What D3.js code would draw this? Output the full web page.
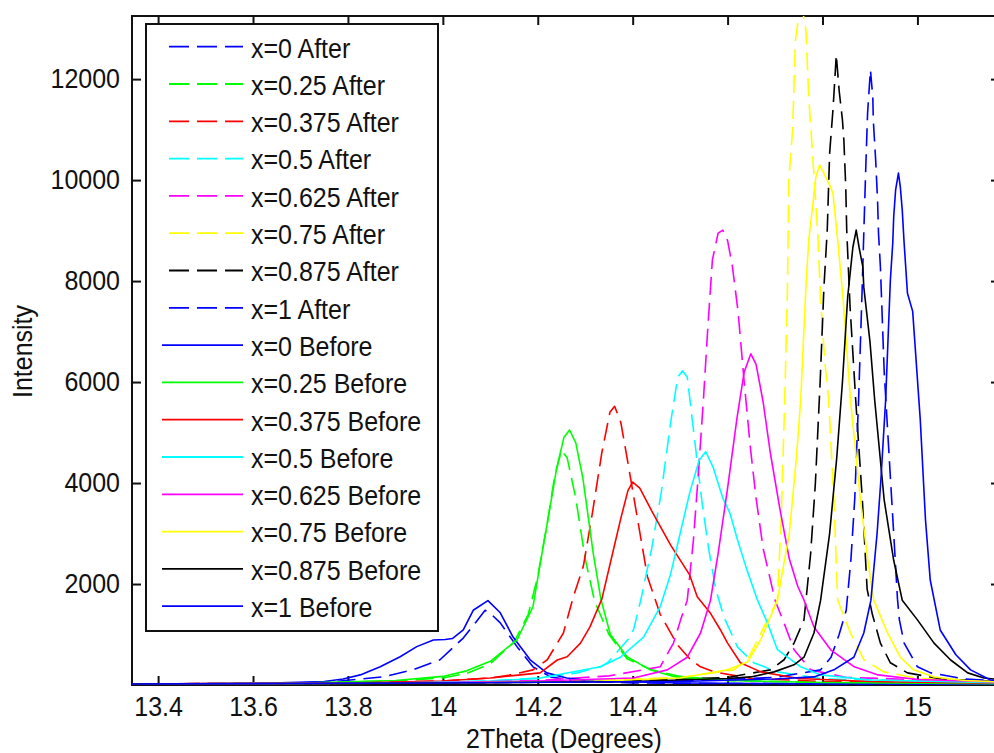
<!DOCTYPE html>
<html>
<head>
<meta charset="utf-8">
<script src="https://cdn.jsdelivr.net/npm/d3@7"></script>
<style>
  html, body { margin: 0; padding: 0; background: #fff; }
  svg { display: block; }
  text {
    font-family: "Liberation Sans", Arial, sans-serif; fill: #111;
    transform-box: fill-box; transform-origin: center; transform: scaleY(1.08);
  }
</style>
</head>
<body>
<svg id="chart" width="994" height="753"></svg>
<script>
// ---- data: XRD peak profiles, intensity vs 2theta (degrees) ----
const compositions = ["0", "0.25", "0.375", "0.5", "0.625", "0.75", "0.875", "1"];
const colours = ["#0000ff", "#00ff00", "#ff0000", "#00ffff", "#ff00ff", "#ffff00", "#000000", "#0000ff"];

const after_0 = [[13.34,15],[13.6,25],[13.75,50],[13.805,100],[13.874,160],[13.937,300],[13.994,500],[14.043,930],[14.07,1250],[14.089,1480],[14.10,1420],[14.121,1230],[14.157,750],[14.19,360],[14.227,160],[14.28,80],[14.4,40],[14.7,25],[15.2,15]];
const after_025 = [[13.34,20],[13.7,40],[13.9,80],[14.0,140],[14.05,230],[14.1,420],[14.15,850],[14.18,1400],[14.2,2150],[14.22,3200],[14.235,4100],[14.25,4650],[14.262,4500],[14.28,3700],[14.30,2500],[14.32,1650],[14.35,1000],[14.388,520],[14.44,300],[14.5,170],[14.6,90],[14.8,50],[15.2,25]];
const after_0375 = [[13.34,20],[13.8,40],[14.0,80],[14.1,140],[14.142,200],[14.19,300],[14.22,500],[14.254,1030],[14.275,1750],[14.296,2350],[14.315,3400],[14.335,4600],[14.352,5400],[14.362,5520],[14.375,5200],[14.39,4400],[14.41,3300],[14.431,2150],[14.458,1400],[14.494,800],[14.522,500],[14.543,360],[14.571,260],[14.65,130],[14.8,70],[15.2,30]];
const after_05 = [[13.34,20],[13.9,40],[14.1,80],[14.2,140],[14.283,240],[14.332,360],[14.347,440],[14.39,900],[14.402,1100],[14.417,1680],[14.44,2700],[14.46,3800],[14.48,5200],[14.495,6100],[14.505,6220],[14.515,6100],[14.53,4900],[14.545,3700],[14.56,2700],[14.575,1900],[14.592,1350],[14.621,750],[14.655,440],[14.705,260],[14.8,120],[15.2,40]];
const after_0625 = [[13.34,20],[14.0,50],[14.2,90],[14.35,180],[14.458,360],[14.486,830],[14.501,1290],[14.515,1680],[14.528,2870],[14.539,4260],[14.549,5640],[14.558,7030],[14.568,8420],[14.58,8950],[14.59,9010],[14.60,8800],[14.61,8300],[14.622,7400],[14.635,6000],[14.648,4700],[14.66,3700],[14.675,2700],[14.7,1680],[14.72,1200],[14.74,700],[14.775,300],[14.85,150],[15.2,50]];
const after_075 = [[13.34,20],[14.0,40],[14.3,80],[14.5,150],[14.613,300],[14.642,500],[14.663,890],[14.684,1290],[14.705,1680],[14.713,3300],[14.72,5500],[14.726,7760],[14.729,10000],[14.737,11000],[14.743,12770],[14.752,13400],[14.76,13250],[14.765,12970],[14.771,11640],[14.779,10530],[14.79,8950],[14.796,7620],[14.805,6400],[14.813,5640],[14.824,3660],[14.832,1680],[14.859,1030],[14.887,500],[14.929,260],[15.0,130],[15.2,50]];
const after_0875 = [[13.34,20],[14.0,40],[14.4,80],[14.6,150],[14.69,300],[14.719,500],[14.74,830],[14.761,1290],[14.775,2600],[14.785,4000],[14.795,6000],[14.803,7880],[14.81,9010],[14.815,10530],[14.822,11390],[14.826,12000],[14.829,12480],[14.835,11780],[14.842,11190],[14.845,10790],[14.849,9860],[14.851,9010],[14.858,7500],[14.87,5640],[14.884,3660],[14.894,1900],[14.905,1400],[14.922,830],[14.943,440],[14.979,240],[15.05,120],[15.2,50]];
const after_1 = [[13.34,20],[14.0,40],[14.5,80],[14.7,150],[14.796,300],[14.818,550],[14.835,1000],[14.85,1480],[14.86,2500],[14.868,3700],[14.876,5640],[14.883,7680],[14.887,8950],[14.891,10200],[14.895,11330],[14.899,11900],[14.901,12180],[14.906,11640],[14.907,11190],[14.912,10400],[14.916,9600],[14.918,8950],[14.922,8280],[14.924,7760],[14.93,6200],[14.94,4600],[14.95,3000],[14.958,1700],[14.962,1290],[14.972,830],[15.0,360],[15.028,240],[15.1,120],[15.2,60]];

const before_0 = [[13.34,15],[13.6,30],[13.75,70],[13.79,120],[13.826,200],[13.868,360],[13.91,560],[13.945,760],[13.98,890],[14.005,900],[14.02,920],[14.043,1090],[14.064,1480],[14.095,1670],[14.121,1430],[14.148,950],[14.184,500],[14.219,240],[14.261,140],[14.32,80],[14.5,40],[14.8,25],[15.2,15]];
const before_025 = [[13.34,20],[13.7,40],[13.9,90],[14.0,170],[14.05,280],[14.1,470],[14.156,890],[14.19,1550],[14.205,2400],[14.22,3200],[14.24,4300],[14.255,4900],[14.267,5050],[14.28,4800],[14.295,4100],[14.317,2600],[14.333,1700],[14.353,1000],[14.388,560],[14.437,300],[14.49,160],[14.6,90],[14.8,50],[15.2,25]];
const before_0375 = [[13.34,20],[13.8,40],[14.0,80],[14.1,140],[14.205,240],[14.241,495],[14.262,560],[14.29,830],[14.31,1150],[14.335,1700],[14.355,2500],[14.375,3300],[14.39,3850],[14.40,4020],[14.415,3900],[14.44,3450],[14.48,2770],[14.52,2180],[14.536,1750],[14.564,1420],[14.585,1090],[14.6,830],[14.627,440],[14.67,260],[14.75,130],[14.9,70],[15.2,30]];
const before_05 = [[13.34,20],[13.9,40],[14.1,80],[14.2,130],[14.332,360],[14.374,550],[14.423,950],[14.458,1550],[14.48,2200],[14.5,3000],[14.52,3800],[14.54,4450],[14.554,4620],[14.57,4300],[14.59,3700],[14.605,3400],[14.62,2900],[14.64,2300],[14.663,1680],[14.684,1230],[14.705,700],[14.754,360],[14.796,200],[14.9,100],[15.2,40]];
const before_0625 = [[13.34,20],[14.0,50],[14.2,80],[14.402,140],[14.473,300],[14.515,550],[14.543,1030],[14.564,1680],[14.58,2600],[14.6,3900],[14.62,5300],[14.635,6200],[14.649,6560],[14.66,6350],[14.675,5600],[14.69,4600],[14.71,3500],[14.73,2500],[14.748,1950],[14.761,1680],[14.782,1150],[14.818,690],[14.867,360],[14.917,200],[15.0,110],[15.2,50]];
const before_075 = [[13.34,20],[14.0,40],[14.3,70],[14.5,140],[14.6,300],[14.642,455],[14.67,900],[14.705,1680],[14.73,3000],[14.745,4500],[14.754,5640],[14.765,7880],[14.771,8810],[14.779,9470],[14.786,10060],[14.794,10300],[14.805,10100],[14.815,9900],[14.822,9740],[14.832,8810],[14.843,7680],[14.859,5640],[14.88,3660],[14.895,2500],[14.908,1680],[14.937,1030],[14.964,550],[14.992,300],[15.035,160],[15.1,90],[15.2,50]];
const before_0875 = [[13.34,20],[14.0,40],[14.4,70],[14.6,130],[14.649,160],[14.698,260],[14.74,400],[14.761,550],[14.782,1030],[14.796,1680],[14.815,3000],[14.83,4500],[14.842,6000],[14.853,7680],[14.864,8670],[14.871,9010],[14.877,8670],[14.885,8280],[14.887,7880],[14.9,6800],[14.91,5640],[14.93,3660],[14.95,2470],[14.968,1680],[15.0,1290],[15.035,830],[15.07,495],[15.106,240],[15.14,140],[15.2,80]];
const before_1 = [[13.34,20],[14.0,40],[14.5,70],[14.7,120],[14.782,160],[14.824,300],[14.866,550],[14.887,1030],[14.902,1680],[14.915,3000],[14.923,4060],[14.933,5640],[14.943,8020],[14.948,8750],[14.95,9270],[14.954,9800],[14.96,10140],[14.964,9860],[14.968,9410],[14.972,8750],[14.979,7760],[14.99,7400],[15.006,5250],[15.017,3270],[15.027,2080],[15.048,1090],[15.081,600],[15.112,300],[15.154,100],[15.2,60]];

const afterSeries = [after_0, after_025, after_0375, after_05, after_0625, after_075, after_0875, after_1];
const beforeSeries = [before_0, before_025, before_0375, before_05, before_0625, before_075, before_0875, before_1];

const xTicks = [13.4, 13.6, 13.8, 14, 14.2, 14.4, 14.6, 14.8, 15];
const xTickLabels = ["13.4", "13.6", "13.8", "14", "14.2", "14.4", "14.6", "14.8", "15"];
const yTicks = [2000, 4000, 6000, 8000, 10000, 12000];
const yTickLabels = ["2000", "4000", "6000", "8000", "10000", "12000"];

// ---- series table (After dashed first, then Before solid) ----
const series = [];
compositions.forEach((c, i) => series.push({ name: "x=" + c + " After", data: afterSeries[i], colour: colours[i], dashed: true }));
compositions.forEach((c, i) => series.push({ name: "x=" + c + " Before", data: beforeSeries[i], colour: colours[i], dashed: false }));

// ---- layout ----
const svg = d3.select("#chart");
const plot = { left: 132, top: 16, right: 1000, bottom: 685 };
const tickLen = 9;
const fontSize = 25;

const x = d3.scaleLinear().domain([13.345, 15.174]).range([plot.left, plot.right]);
const y = d3.scaleLinear().domain([0, 13250]).range([plot.bottom, plot.top]);

svg.append("defs").append("clipPath").attr("id", "plotClip")
  .append("rect")
  .attr("x", plot.left).attr("y", plot.top)
  .attr("width", plot.right - plot.left).attr("height", plot.bottom - plot.top + 4);

// ---- axes box with inward ticks on all four sides ----
const axisG = svg.append("g");
axisG.append("rect")
  .attr("x", plot.left).attr("y", plot.top)
  .attr("width", plot.right - plot.left).attr("height", plot.bottom - plot.top)
  .attr("fill", "none").attr("stroke", "#111").attr("stroke-width", 2);

const xAxisBottom = d3.axisBottom(x).tickValues(xTicks).tickSizeInner(-tickLen).tickSizeOuter(0)
  .tickPadding(13).tickFormat((d, i) => xTickLabels[i]);
const xAxisTop = d3.axisTop(x).tickValues(xTicks).tickSizeInner(-tickLen).tickSizeOuter(0).tickFormat("");
const yAxisLeft = d3.axisLeft(y).tickValues(yTicks).tickSizeInner(-tickLen).tickSizeOuter(0)
  .tickPadding(tickLen + 3).tickFormat((d, i) => yTickLabels[i]);
const yAxisRight = d3.axisRight(y).tickValues(yTicks).tickSizeInner(-tickLen).tickSizeOuter(0).tickFormat("");

function styleAxis(g) {
  g.select(".domain").remove();
  g.selectAll(".tick line").attr("stroke", "#111").attr("stroke-width", 2);
  g.selectAll(".tick text").style("font-size", fontSize + "px").attr("fill", "#111")
    .style("font-family", '"Liberation Sans", Arial, sans-serif');
}
axisG.append("g").attr("transform", `translate(0,${plot.bottom})`).call(xAxisBottom).call(styleAxis);
axisG.append("g").attr("transform", `translate(0,${plot.top})`).call(xAxisTop).call(styleAxis);
axisG.append("g").attr("transform", `translate(${plot.left},0)`).call(yAxisLeft).call(styleAxis);
axisG.append("g").attr("transform", `translate(${plot.right},0)`).call(yAxisRight).call(styleAxis);

// ---- axis titles ----
svg.append("text")
  .attr("x", (plot.left + plot.right) / 2 - 2).attr("y", 747)
  .attr("text-anchor", "middle").style("font-size", fontSize + "px")
  .text("2Theta (Degrees)");
svg.append("g")
  .attr("transform", `translate(31,${(plot.top + plot.bottom) / 2 + 1}) rotate(-90)`)
  .append("text")
  .attr("text-anchor", "middle").style("font-size", fontSize + "px")
  .text("Intensity");

// ---- curves ----
const line = d3.line().x(d => x(d[0])).y(d => y(d[1]));
const curves = svg.append("g").attr("clip-path", "url(#plotClip)");
curves.selectAll("path").data(series).join("path")
  .attr("d", d => line(d.data))
  .attr("fill", "none")
  .attr("stroke", d => d.colour)
  .attr("stroke-width", 1.6)
  .attr("stroke-dasharray", d => d.dashed ? "18,8" : null)
  .attr("stroke-linejoin", "round");

// ---- legend ----
const legend = { left: 146, top: 24, right: 438, bottom: 631, firstRow: 46.7, rowGap: 37.3 };
const lg = svg.append("g");
lg.append("rect")
  .attr("x", legend.left).attr("y", legend.top)
  .attr("width", legend.right - legend.left).attr("height", legend.bottom - legend.top)
  .attr("fill", "#fff").attr("stroke", "#111").attr("stroke-width", 2);

const rows = lg.selectAll("g.row").data(series).join("g").attr("class", "row")
  .attr("transform", (d, i) => `translate(0,${legend.firstRow + i * legend.rowGap})`);
rows.append("line")
  .attr("x1", 162).attr("x2", 243).attr("y1", 0).attr("y2", 0)
  .attr("stroke", d => d.colour).attr("stroke-width", 1.8)
  .attr("stroke-dasharray", d => d.dashed ? "20,8" : null)
  .attr("stroke-dashoffset", d => d.dashed ? 21 : null);
rows.append("text")
  .attr("x", 251).attr("y", 1.5)
  .attr("dominant-baseline", "central")
  .style("font-size", fontSize + "px")
  .text(d => d.name);
</script>
</body>
</html>
